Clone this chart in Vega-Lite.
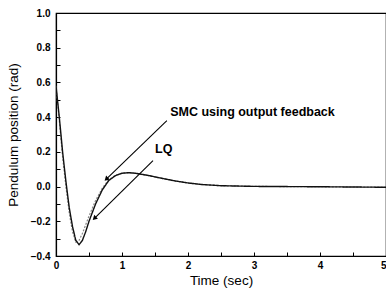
{
  "$schema": "https://vega.github.io/schema/vega-lite/v6.json",
  "autosize": "none",
  "width": 330,
  "height": 243,
  "padding": {"left": 56, "top": 13, "right": 0, "bottom": 41},
  "background": "white",
  "config": {
    "view": {"stroke": "black", "strokeWidth": 1.2},
    "font": "Liberation Sans",
    "axis": {
      "domainColor": "black",
      "domainWidth": 1.2,
      "tickColor": "black",
      "grid": false,
      "labelOverlap": false,
      "labelFont": "Liberation Sans",
      "labelFontWeight": "bold",
      "labelFontSize": 10,
      "labelColor": "black",
      "titleFont": "Liberation Sans",
      "titleFontWeight": "normal",
      "titleFontSize": 13.5,
      "titleColor": "black"
    }
  },
  "datasets": {
    "curves": [
      {"t": 0, "y": 0.58, "s": "LQ"}, {"t": 0.05, "y": 0.38, "s": "LQ"}, {"t": 0.1, "y": 0.17, "s": "LQ"},
      {"t": 0.15, "y": 0.0, "s": "LQ"}, {"t": 0.2, "y": -0.15, "s": "LQ"}, {"t": 0.25, "y": -0.26, "s": "LQ"},
      {"t": 0.3, "y": -0.32, "s": "LQ"}, {"t": 0.35, "y": -0.31, "s": "LQ"}, {"t": 0.4, "y": -0.27, "s": "LQ"},
      {"t": 0.5, "y": -0.17, "s": "LQ"}, {"t": 0.6, "y": -0.08, "s": "LQ"}, {"t": 0.7, "y": -0.01, "s": "LQ"},
      {"t": 0.8, "y": 0.04, "s": "LQ"}, {"t": 0.9, "y": 0.065, "s": "LQ"}, {"t": 1.0, "y": 0.077, "s": "LQ"},
      {"t": 1.1, "y": 0.079, "s": "LQ"}, {"t": 1.2, "y": 0.076, "s": "LQ"}, {"t": 1.4, "y": 0.063, "s": "LQ"},
      {"t": 1.6, "y": 0.047, "s": "LQ"}, {"t": 1.8, "y": 0.032, "s": "LQ"}, {"t": 2.0, "y": 0.02, "s": "LQ"},
      {"t": 2.2, "y": 0.012, "s": "LQ"}, {"t": 2.5, "y": 0.005, "s": "LQ"}, {"t": 3.0, "y": 0.001, "s": "LQ"},
      {"t": 3.5, "y": 0.0, "s": "LQ"}, {"t": 4.0, "y": -0.001, "s": "LQ"}, {"t": 5.0, "y": -0.004, "s": "LQ"},
      {"t": 0, "y": 0.58, "s": "SMC"}, {"t": 0.05, "y": 0.40, "s": "SMC"}, {"t": 0.1, "y": 0.2, "s": "SMC"},
      {"t": 0.15, "y": 0.03, "s": "SMC"}, {"t": 0.2, "y": -0.12, "s": "SMC"}, {"t": 0.25, "y": -0.23, "s": "SMC"},
      {"t": 0.3, "y": -0.31, "s": "SMC"}, {"t": 0.35, "y": -0.335, "s": "SMC"}, {"t": 0.4, "y": -0.31, "s": "SMC"},
      {"t": 0.45, "y": -0.26, "s": "SMC"}, {"t": 0.5, "y": -0.2, "s": "SMC"}, {"t": 0.6, "y": -0.1, "s": "SMC"},
      {"t": 0.7, "y": -0.02, "s": "SMC"}, {"t": 0.8, "y": 0.035, "s": "SMC"}, {"t": 0.9, "y": 0.063, "s": "SMC"},
      {"t": 1.0, "y": 0.077, "s": "SMC"}, {"t": 1.1, "y": 0.08, "s": "SMC"}, {"t": 1.2, "y": 0.077, "s": "SMC"},
      {"t": 1.4, "y": 0.064, "s": "SMC"}, {"t": 1.6, "y": 0.048, "s": "SMC"}, {"t": 1.8, "y": 0.033, "s": "SMC"},
      {"t": 2.0, "y": 0.021, "s": "SMC"}, {"t": 2.2, "y": 0.012, "s": "SMC"}, {"t": 2.5, "y": 0.005, "s": "SMC"},
      {"t": 3.0, "y": 0.001, "s": "SMC"}, {"t": 3.5, "y": 0.0, "s": "SMC"}, {"t": 4.0, "y": -0.001, "s": "SMC"},
      {"t": 5.0, "y": -0.004, "s": "SMC"}
    ],
    "arrows": [
      {"t": 1.68, "y": 0.38, "t2": 0.77, "y2": 0.046},
      {"t": 1.47, "y": 0.15, "t2": 0.59, "y2": -0.18}
    ],
    "heads": [
      {"t": 0.77, "y": 0.046},
      {"t": 0.59, "y": -0.18}
    ],
    "labels": [
      {"t": 1.73, "y": 0.43, "label": "SMC using output feedback"},
      {"t": 1.5, "y": 0.215, "label": "LQ"}
    ]
  },
  "encoding": {
    "x": {
      "field": "t", "type": "quantitative",
      "scale": {"domain": [0, 5], "nice": false, "zero": false},
      "axis": {
        "title": "Time (sec)",
        "values": [0, 0.5, 1, 1.5, 2, 2.5, 3, 3.5, 4, 4.5, 5],
        "labelExpr": "datum.value % 1 == 0 ? format(datum.value, 'd') : ''",
        "labelAlign": {"condition": {"test": "datum.value == 5", "value": "right"}, "value": "center"},
        "tickSize": -4,
        "labelPadding": 8,
        "titlePadding": 3
      }
    },
    "y": {
      "field": "y", "type": "quantitative",
      "scale": {"domain": [-0.4, 1.0], "nice": false, "zero": false},
      "axis": {
        "title": "Pendulum position (rad)",
        "values": [-0.4, -0.3, -0.2, -0.1, 0, 0.1, 0.2, 0.3, 0.4, 0.5, 0.6, 0.7, 0.8, 0.9, 1.0],
        "labelExpr": "abs(round(datum.value * 10)) % 2 == 0 ? format(datum.value, '.1f') : ''",
        "labelOverlap": false,
        "labelFlush": false,
        "tickSize": -4,
        "labelPadding": 10,
        "titlePadding": 10
      }
    }
  },
  "layer": [
    {
      "data": {"name": "curves"},
      "mark": {"type": "line", "clip": true},
      "encoding": {
        "detail": {"field": "s"},
        "color": {"field": "s", "type": "nominal", "scale": {"domain": ["LQ", "SMC"], "range": ["#8a8a8a", "#111111"]}, "legend": null},
        "strokeDash": {"field": "s", "type": "nominal", "scale": {"domain": ["LQ", "SMC"], "range": [[2, 1.5], [1, 0]]}, "legend": null},
        "strokeWidth": {"field": "s", "type": "nominal", "scale": {"domain": ["LQ", "SMC"], "range": [1.2, 1.4]}, "legend": null}
      }
    },
    {
      "data": {"name": "arrows"},
      "mark": {"type": "rule", "color": "black", "strokeWidth": 1.1},
      "encoding": {
        "x2": {"field": "t2"},
        "y2": {"field": "y2"}
      }
    },
    {
      "data": {"name": "heads"},
      "mark": {"type": "point", "shape": "triangle", "filled": true, "color": "black", "size": 28, "angle": 226, "opacity": 1},
      "encoding": {}
    },
    {
      "data": {"name": "labels"},
      "mark": {"type": "text", "align": "left", "baseline": "middle", "font": "Liberation Sans", "fontWeight": "bold", "fontSize": 12.5, "color": "black"},
      "encoding": {
        "text": {"field": "label"}
      }
    }
  ]
}
